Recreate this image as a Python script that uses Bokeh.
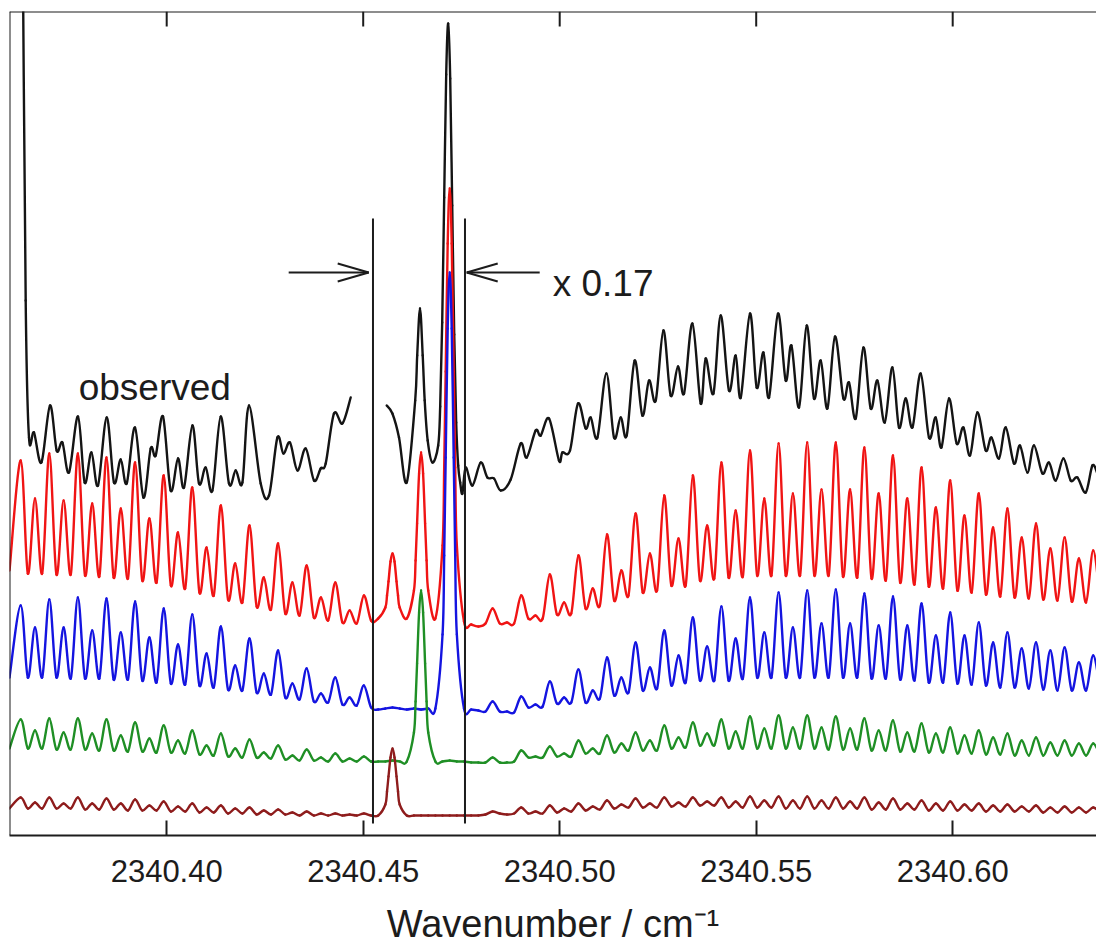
from bokeh.plotting import figure
from bokeh.models import Range1d, FixedTicker, PrintfTickFormatter, Span
from bokeh.embed import file_html
from bokeh.resources import INLINE
from bokeh.core.properties import value

# ---------------- data ----------------
# wavenumber of each rotational line (cm-1)
line_pos = [
    2340.36285, 2340.36649, 2340.37013, 2340.37377, 2340.37740, 2340.38104, 2340.38468, 2340.38832, 2340.39196, 2340.39560,
    2340.39924, 2340.40288, 2340.40651, 2340.41015, 2340.41379, 2340.41743, 2340.42107, 2340.42471, 2340.42835, 2340.43199,
    2340.43562, 2340.43926, 2340.44290, 2340.44654, 2340.45018, 2340.45382, 2340.45746, 2340.46109, 2340.46473, 2340.46837,
    2340.47201, 2340.47565, 2340.47929, 2340.48293, 2340.48657, 2340.49020, 2340.49384, 2340.49748, 2340.50112, 2340.50476,
    2340.50840, 2340.51204, 2340.51568, 2340.51931, 2340.52295, 2340.52659, 2340.53023, 2340.53387, 2340.53751, 2340.54115,
    2340.54478, 2340.54842, 2340.55206, 2340.55570, 2340.55934, 2340.56298, 2340.56662, 2340.57026, 2340.57389, 2340.57753,
    2340.58117, 2340.58481, 2340.58845, 2340.59209, 2340.59573, 2340.59937, 2340.60300, 2340.60664, 2340.61028, 2340.61392,
    2340.61756, 2340.62120, 2340.62484, 2340.62848, 2340.63211, 2340.63575]
# wavenumber of the minima between lines (cm-1)
gap_pos = [
    2340.36000, 2340.36467, 2340.36831, 2340.37195, 2340.37559, 2340.37922, 2340.38286, 2340.38650, 2340.39014, 2340.39378,
    2340.39742, 2340.40106, 2340.40470, 2340.40833, 2340.41197, 2340.41561, 2340.41925, 2340.42289, 2340.42653, 2340.43017,
    2340.43381, 2340.43744, 2340.44108, 2340.44472, 2340.44836, 2340.45200, 2340.45564, 2340.45928, 2340.46291, 2340.46655,
    2340.47019, 2340.47383, 2340.47747, 2340.48111, 2340.48475, 2340.48839, 2340.49202, 2340.49566, 2340.49930, 2340.50294,
    2340.50658, 2340.51022, 2340.51386, 2340.51750, 2340.52113, 2340.52477, 2340.52841, 2340.53205, 2340.53569, 2340.53933,
    2340.54297, 2340.54660, 2340.55024, 2340.55388, 2340.55752, 2340.56116, 2340.56480, 2340.56844, 2340.57208, 2340.57571,
    2340.57935, 2340.58299, 2340.58663, 2340.59027, 2340.59391, 2340.59755, 2340.60119, 2340.60482, 2340.60846, 2340.61210,
    2340.61574, 2340.61938, 2340.62302, 2340.62666, 2340.63030, 2340.63393, 2340.63757]
# flank points of the strong central lines
wing26_x = [2340.45606, 2340.45644, 2340.45695, 2340.45797, 2340.45848, 2340.45886]
wing28_x = [2340.46333, 2340.46371, 2340.46422, 2340.46524, 2340.46575, 2340.46613]
wing30_x = [2340.47061, 2340.47099, 2340.47150, 2340.47252, 2340.47303, 2340.47341]

# simulated traces (offset intensity, arbitrary units)
red_peak = [375, 337, 382, 335, 382, 332, 378, 327, 373, 317,
            360, 303, 348, 288, 330, 272, 310, 258, 292, 253,
            270, 238, 253, 225, 240, 217, 282, 217, 383, 217,
            647, 214, 209, 227, 213, 240, 220, 261, 233, 280,
            247, 301, 265, 322, 282, 340, 297, 360, 310, 373,
            325, 385, 337, 392, 342, 393, 346, 393, 346, 388,
            342, 380, 337, 368, 328, 355, 320, 342, 308, 327,
            298, 312, 287, 298, 277, 285]
red_gap = [265, 262, 262, 261, 261, 260, 259, 258, 257, 255,
           253, 250, 247, 243, 240, 236, 233, 229, 226, 222,
           220, 218, 215, 213, 212, 215, 228, 228, 245, 245,
           290, 290, 211, 212, 212, 212, 217, 217, 221, 222,
           227, 230, 235, 240, 243, 245, 250, 250, 255, 257,
           258, 259, 260, 260, 260, 260, 260, 260, 259, 258,
           257, 255, 253, 251, 249, 247, 245, 243, 241, 239,
           238, 237, 236, 235, 234, 233, 233]
red_wing_x = wing26_x + wing28_x + wing30_x
red_wing_y = [240, 254, 274, 274, 254, 240,
              275, 312, 362, 362, 312, 275,
              368, 464, 592, 592, 464, 368]

blue_peak = [230, 208, 236, 208, 238, 205, 237, 203, 234, 198,
             227, 191, 221, 182, 209, 170, 197, 162, 185, 152,
             167, 142, 158, 138, 150, 126, 128, 126, 126, 127,
             563, 127, 125, 134, 124, 139, 131, 154, 138, 166,
             145, 178, 158, 193, 168, 205, 180, 218, 189, 229,
             197, 238, 203, 243, 208, 245, 212, 246, 212, 242,
             210, 239, 210, 232, 200, 223, 200, 213, 193, 203,
             187, 193, 185, 188, 173, 180]
blue_gap = [158, 158, 158, 158, 157, 157, 157, 156, 156, 155,
            153, 152, 151, 150, 148, 146, 145, 143, 141, 138,
            136, 134, 133, 131, 130, 128, 127, 127, 127, 127,
            201, 201, 126, 124, 124, 123, 128, 129, 132, 133,
            133, 137, 140, 143, 145, 147, 150, 153, 155, 155,
            155, 157, 158, 158, 158, 158, 158, 158, 158, 158,
            157, 157, 156, 155, 153, 153, 152, 151, 150, 148,
            148, 147, 146, 145, 145, 145, 145]
blue_wing_x = wing30_x
blue_wing_y = [280, 378, 507, 507, 378, 280]

green_peak = [116, 105, 117, 103, 117, 102, 116, 100, 113, 97,
              110, 95, 105, 90, 102, 87, 96, 83, 90, 80,
              86, 78, 82, 77, 79, 74, 75, 74, 245, 74,
              75, 74, 73, 78, 73, 85, 79, 89, 82, 95,
              87, 100, 92, 103, 95, 110, 98, 113, 102, 116,
              104, 119, 107, 120, 108, 120, 108, 119, 107, 117,
              105, 115, 103, 112, 102, 108, 100, 105, 98, 102,
              95, 98, 93, 95, 92, 92]
green_gap = [87, 87, 87, 86, 86, 86, 85, 85, 84, 84,
             83, 83, 82, 81, 80, 79, 78, 78, 77, 76,
             75, 75, 74, 74, 74, 74, 74, 74, 103, 103,
             74, 74, 73, 73, 73, 74, 78, 78, 79, 79,
             82, 82, 83, 85, 85, 85, 87, 88, 90, 90,
             87, 87, 87, 87, 87, 87, 87, 86, 86, 86,
             85, 85, 84, 84, 83, 83, 82, 82, 81, 81,
             80, 80, 80, 80, 80, 80, 80]
green_wing_x = wing28_x
green_wing_y = [134, 172, 223, 223, 172, 134]

brown_peak = [38, 33, 38, 32, 38, 32, 37, 32, 36, 30,
              34, 29, 32, 28, 30, 27, 28, 25, 26, 23,
              24, 22, 22, 21, 22, 20, 87, 20, 20, 20,
              20, 20, 20, 24, 21, 28, 24, 30, 27, 32,
              29, 35, 31, 37, 32, 38, 33, 38, 34, 38,
              34, 39, 35, 39, 35, 39, 35, 38, 34, 38,
              33, 37, 32, 35, 32, 34, 31, 32, 30, 31,
              29, 30, 28, 29, 28, 28]
brown_gap = [27, 27, 27, 27, 27, 26, 26, 26, 25, 25,
             25, 24, 24, 23, 23, 22, 22, 21, 21, 21,
             20, 20, 20, 20, 20, 20, 31, 31, 20, 20,
             20, 20, 20, 21, 22, 22, 22, 22, 23, 24,
             25, 26, 27, 28, 28, 28, 29, 29, 30, 30,
             28, 28, 28, 28, 27, 27, 27, 27, 27, 27,
             26, 26, 26, 26, 25, 25, 25, 25, 24, 24,
             24, 24, 23, 23, 23, 23, 23]
brown_wing_x = wing26_x
brown_wing_y = [44, 59, 78, 78, 59, 44]

# observed trace (two pieces, gap in the record)
obs1_x = [2340.36316, 2340.36412, 2340.36496, 2340.36623, 2340.36812, 2340.37031, 2340.37201, 2340.37346, 2340.37514, 2340.37743,
          2340.37913, 2340.38084, 2340.38252, 2340.38473, 2340.38659, 2340.38830, 2340.38982, 2340.39193, 2340.39407, 2340.39593,
          2340.39720, 2340.39906, 2340.40102, 2340.40288, 2340.40440, 2340.40654, 2340.40822, 2340.40992, 2340.41163, 2340.41374,
          2340.41585, 2340.41756, 2340.41926, 2340.42094, 2340.42392, 2340.42603, 2340.42817, 2340.42969, 2340.43137, 2340.43326,
          2340.43537, 2340.43748, 2340.43919, 2340.44046, 2340.44257, 2340.44471, 2340.44682]
obs1_y = [1000, 535, 398, 403, 373, 430, 385, 393, 363, 419,
          353, 383, 350, 418, 353, 376, 352, 408, 338, 387,
          380, 419, 345, 377, 348, 410, 352, 368, 345, 419,
          352, 365, 353, 430, 352, 340, 398, 382, 393, 365,
          387, 355, 367, 372, 422, 412, 438]
obs2_x = [2340.45598, 2340.45743, 2340.45911, 2340.46107, 2340.46323, 2340.46374, 2340.46445, 2340.46514, 2340.46565, 2340.46641,
          2340.46761, 2340.46908, 2340.46959, 2340.47010, 2340.47061, 2340.47112, 2340.47163, 2340.47214, 2340.47265, 2340.47316,
          2340.47366, 2340.47417, 2340.47468,
          2340.47524, 2340.47608, 2340.47779, 2340.47990, 2340.48160, 2340.48328, 2340.48499, 2340.48753, 2340.49008, 2340.49160,
          2340.49389, 2340.49517, 2340.49728, 2340.49982, 2340.50069, 2340.50262, 2340.50466, 2340.50662, 2340.50789, 2340.50959,
          2340.51188, 2340.51382, 2340.51552, 2340.51705, 2340.51908, 2340.52104, 2340.52272, 2340.52443, 2340.52639, 2340.52824,
          2340.53010, 2340.53163, 2340.53377, 2340.53588, 2340.53715, 2340.53911, 2340.54097, 2340.54308, 2340.54478, 2340.54606,
          2340.54842, 2340.55013, 2340.55183, 2340.55326, 2340.55555, 2340.55751, 2340.55896, 2340.56089, 2340.56285, 2340.56471,
          2340.56641, 2340.56812, 2340.57005, 2340.57219, 2340.57361, 2340.57532, 2340.57728, 2340.57914, 2340.58084, 2340.58270,
          2340.58466, 2340.58634, 2340.58804, 2340.58975, 2340.59186, 2340.59397, 2340.59567, 2340.59712, 2340.59906, 2340.60102,
          2340.60272, 2340.60440, 2340.60628, 2340.60840, 2340.60985, 2340.61178, 2340.61349, 2340.61560, 2340.61712, 2340.61901,
          2340.62069, 2340.62282, 2340.62450, 2340.62621, 2340.62817, 2340.63003, 2340.63173, 2340.63384, 2340.63555, 2340.63682]
obs2_y = [430, 422, 398, 353, 435, 480, 527, 480, 435, 395,
          373, 390, 429, 513, 638, 761, 812, 757, 630, 501,
          413, 370, 353,
          342, 368, 350, 373, 358, 357, 345, 356, 392, 378,
          405, 400, 417, 375, 383, 385, 432, 407, 418, 398,
          462, 398, 418, 400, 475, 420, 455, 435, 505, 440,
          469, 442, 512, 432, 477, 442, 520, 445, 480, 438,
          522, 448, 483, 438, 522, 455, 490, 428, 510, 437,
          475, 427, 499, 437, 453, 417, 488, 427, 455, 413,
          468, 408, 437, 408, 462, 398, 418, 388, 437, 392,
          408, 380, 423, 385, 398, 377, 408, 372, 390, 363,
          390, 362, 373, 355, 377, 355, 358, 343, 370, 362]

# annotations
tick_values = [2340.40, 2340.45, 2340.50, 2340.55, 2340.60]
window_x = [2340.45249, 2340.47590]       # vertical markers of the scaled window
window_y = [12, 617]
arrow_y = 563
arrow_left = [2340.43104, 2340.45140]     # tail, tip
arrow_right = [2340.49491, 2340.47634]    # tail, tip
head_len = 0.00789                       # cm-1 (arm length along x)
head_half = 9
scale_label = "x 0.17"
scale_label_pos = (2340.49822, 552)
obs_label = "observed"
obs_label_pos = (2340.37761, 448)

X_START, X_END = 2340.36000, 2340.63659
Y_START, Y_END = 0, 824
TICK_LEN = 15


def build(peak, gap, wx=(), wy=()):
    pts = sorted(zip(list(line_pos) + list(gap_pos) + list(wx), list(peak) + list(gap) + list(wy)))
    return [a for a, _ in pts], [b for _, b in pts]


def smooth_segments(xs, ys):
    """Cubic (Catmull-Rom) control points so the library draws a smooth curve through the read points."""
    n = len(xs)
    out = {k: [] for k in ("x0", "y0", "x1", "y1", "cx0", "cy0", "cx1", "cy1")}
    for i in range(n - 1):
        i0, i3 = max(i - 1, 0), min(i + 2, n - 1)
        out["x0"].append(xs[i]); out["y0"].append(ys[i])
        out["x1"].append(xs[i + 1]); out["y1"].append(ys[i + 1])
        out["cx0"].append(xs[i] + (xs[i + 1] - xs[i0]) / 6.0)
        out["cy0"].append(ys[i] + (ys[i + 1] - ys[i0]) / 6.0)
        out["cx1"].append(xs[i + 1] - (xs[i3] - xs[i]) / 6.0)
        out["cy1"].append(ys[i + 1] - (ys[i3] - ys[i]) / 6.0)
    return out


FONT = value("Liberation Sans")
INK = "#1c1c1c"
LW = 2.4

p = figure(frame_width=1087, frame_height=824,
           x_range=Range1d(X_START, X_END), y_range=Range1d(Y_START, Y_END),
           output_backend="svg", toolbar_location=None,
           min_border_left=9, min_border_right=0, min_border_top=11, min_border_bottom=0)
p.outline_line_color = None
p.grid.visible = False
p.yaxis.visible = False
p.background_fill_color = "white"
p.border_fill_color = "white"

# bottom axis
xa = p.xaxis[0]
xa.ticker = FixedTicker(ticks=tick_values)
xa.formatter = PrintfTickFormatter(format="%.2f")
xa.major_tick_in = TICK_LEN
xa.major_tick_out = 0
xa.minor_tick_in = 0
xa.minor_tick_out = 0
xa.axis_line_width = 2
xa.axis_line_color = INK
xa.major_tick_line_width = 2
xa.major_tick_line_color = INK
xa.major_label_text_font = "Liberation Sans"
xa.major_label_text_font_size = "31px"
xa.major_label_text_color = INK
xa.major_label_standoff = 24
xa.axis_label = "Wavenumber / cm\u207b\u00b9"
xa.axis_label_text_font = "Liberation Sans"
xa.axis_label_text_font_size = "38px"
xa.axis_label_text_font_style = "normal"
xa.axis_label_text_color = INK
xa.axis_label_standoff = 18

# left and top frame lines, top ticks pointing inward
p.add_layout(Span(location=X_START, dimension="height", line_color=INK, line_width=2))
p.add_layout(Span(location=Y_END, dimension="width", line_color=INK, line_width=2))
p.segment(x0=tick_values, y0=[Y_END] * len(tick_values), x1=tick_values,
          y1=[Y_END - TICK_LEN] * len(tick_values), line_color=INK, line_width=2)

# traces
def draw(xs, ys, color):
    s = smooth_segments(xs, ys)
    p.bezier(x0=s["x0"], y0=s["y0"], x1=s["x1"], y1=s["y1"],
             cx0=s["cx0"], cy0=s["cy0"], cx1=s["cx1"], cy1=s["cy1"],
             line_color=color, line_width=LW, line_cap="round")

draw(obs1_x, obs1_y, "#141414")
draw(obs2_x, obs2_y, "#141414")
draw(*build(red_peak, red_gap, red_wing_x, red_wing_y), "#f01414")
draw(*build(blue_peak, blue_gap, blue_wing_x, blue_wing_y), "#1414e0")
draw(*build(green_peak, green_gap, green_wing_x, green_wing_y), "#1f8f25")
draw(*build(brown_peak, brown_gap, brown_wing_x, brown_wing_y), "#8e1c1c")

# window markers
p.segment(x0=window_x, y0=[window_y[0]] * 2, x1=window_x, y1=[window_y[1]] * 2,
          line_color=INK, line_width=2)

# arrows (shaft + open head)
for tail, tip in (arrow_left, arrow_right):
    back = tip - head_len if tail < tip else tip + head_len
    p.segment(x0=[tail, tip, tip], y0=[arrow_y, arrow_y, arrow_y],
              x1=[tip, back, back], y1=[arrow_y, arrow_y + head_half, arrow_y - head_half],
              line_color=INK, line_width=2)

p.text(x=[scale_label_pos[0]], y=[scale_label_pos[1]], text=[scale_label],
       text_font=FONT, text_font_size="37px", text_color=INK,
       text_align="left", text_baseline="alphabetic")
p.text(x=[obs_label_pos[0]], y=[obs_label_pos[1]], text=[obs_label],
       text_font=FONT, text_font_size="37px", text_color=INK,
       text_align="left", text_baseline="alphabetic")

open("out.html", "w").write(file_html(p, INLINE))
